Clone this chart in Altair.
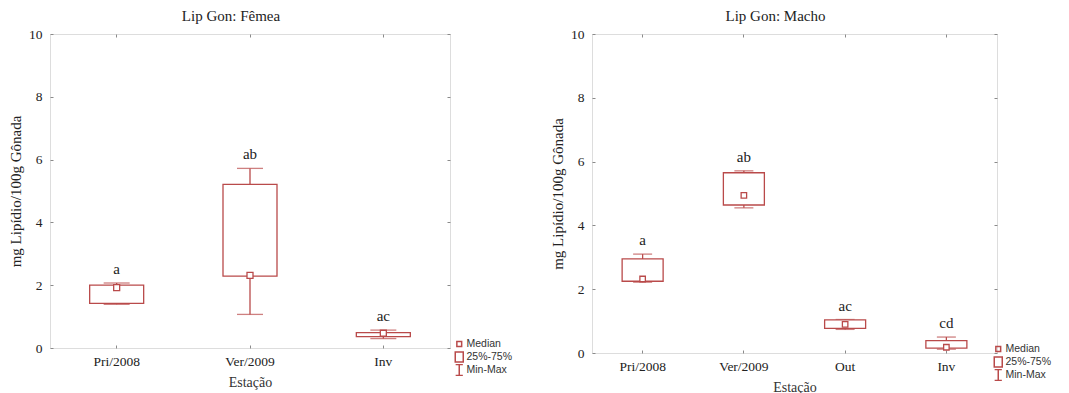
import altair as alt
import pandas as pd

RED = "#b94a4a"
GRAY = "#8a8a8a"
SERIF = "Liberation Serif"
SANS = "Liberation Sans"

# Fêmea
seasons_f = ["Pri/2008", "Ver/2009", "Inv"]
min_f = [1.39, 1.07, 0.30]
q1_f = [1.42, 2.29, 0.36]
med_f = [1.92, 2.31, 0.47]
q3_f = [2.00, 5.21, 0.49]
max_f = [2.07, 5.72, 0.57]
letters_f = ["a", "ab", "ac"]

# Macho
seasons_m = ["Pri/2008", "Ver/2009", "Out", "Inv"]
min_m = [2.22, 4.55, 0.74, 0.12]
q1_m = [2.25, 4.64, 0.77, 0.15]
med_m = [2.32, 4.94, 0.90, 0.18]
q3_m = [2.95, 5.65, 1.04, 0.39]
max_m = [3.10, 5.71, 1.05, 0.50]
letters_m = ["a", "ab", "ac", "cd"]

y_ticks = [0, 2, 4, 6, 8, 10]
legend_labels = ["Median", "25%-75%", "Min-Max"]
legend_paths = [
    "M-0.6,-0.6H0.6V0.6H-0.6Z",
    "M-1,-1.25H1V1.25H-1Z",
    "M-0.9,-1.4H0.9M0,-1.4V1.4M-0.9,1.4H0.9",
]


def panel(title, seasons, mins, q1s, meds, q3s, maxs, letters,
          width, height, box_w, cap_w, med_size, leg_x, leg_y):
    df = pd.DataFrame({"season": seasons, "min": mins, "q1": q1s, "med": meds,
                       "q3": q3s, "max": maxs, "letter": letters})
    xscale = alt.Scale(type="band", domain=seasons, paddingInner=0, paddingOuter=0)
    yscale = alt.Scale(domain=[0, 10], nice=False, zero=True)

    x_bottom = alt.Axis(orient="bottom", title="Estação", domain=False, ticks=True,
                        tickSize=3, offset=-3, tickColor=GRAY, labelAngle=0,
                        labelFont=SERIF, labelFontSize=13.5, labelColor="#222",
                        labelPadding=6, titleFont=SERIF, titleFontSize=14,
                        titleFontWeight="normal", titleColor="#333", titlePadding=8,
                        grid=False)
    x_top = alt.Axis(orient="top", title=None, labels=False, domain=False,
                     tickSize=3, offset=-3, tickColor=GRAY, grid=False,
                     minExtent=0, maxExtent=0)
    y_left = alt.Axis(orient="left", values=y_ticks, title="mg Lipídio/100g Gônada",
                      domain=False, tickSize=3, offset=-3, tickColor=GRAY,
                      labelFont=SERIF, labelFontSize=13.5, labelColor="#222",
                      labelPadding=8, titleFont=SERIF, titleFontSize=15,
                      titleFontWeight="normal", titleColor="#222", titlePadding=5,
                      grid=False)
    y_right = alt.Axis(orient="right", values=y_ticks, title=None, labels=False,
                       domain=False, tickSize=3, offset=-3, tickColor=GRAY, grid=False,
                       minExtent=0, maxExtent=0)

    def X(ax):
        return alt.X("season:N", scale=xscale, axis=ax)

    def Y(field, ax=None):
        return alt.Y(field, scale=yscale, axis=ax)

    base = alt.Chart(df)
    whisk = base.mark_rule(color=RED, strokeWidth=1.3).encode(
        x=X(x_bottom), y=Y("min:Q", y_left), y2="max:Q")
    cap_hi = base.mark_tick(color=RED, size=cap_w, thickness=1.3).encode(
        x=X(x_top), y=Y("max:Q", y_right))
    cap_lo = base.mark_tick(color=RED, size=cap_w, thickness=1.3).encode(
        x=X(None), y=Y("min:Q"))
    box = base.mark_bar(size=box_w, fill="white", stroke=RED, strokeWidth=1.3).encode(
        x=X(None), y=Y("q1:Q"), y2="q3:Q")
    med = base.mark_point(shape="square", size=med_size, filled=True, fill="white",
                          stroke=RED, strokeWidth=1.3, opacity=1).encode(
        x=X(None), y=Y("med:Q"))
    txt = base.mark_text(font=SERIF, fontSize=15, color="#222", baseline="alphabetic",
                         dy=-9).encode(x=X(None), y=Y("max:Q"), text="letter:N")

    leg_df = pd.DataFrame({"season": [seasons[0]] * 3, "v": [-5] * 3, "key": legend_labels})
    leg = alt.Chart(leg_df).mark_point(clip=True, color=RED, filled=False, size=64,
                                       strokeWidth=1, opacity=1).encode(
        x=X(None), y=Y("v:Q"),
        shape=alt.Shape("key:N",
                        scale=alt.Scale(domain=legend_labels, range=legend_paths),
                        legend=alt.Legend(title=None, orient="none", legendX=leg_x,
                                          legendY=leg_y, labelFont=SANS,
                                          labelFontSize=10.5, labelColor="#333",
                                          symbolSize=64, rowPadding=1, clipHeight=12,
                                          labelOffset=2, padding=0)))

    return alt.layer(whisk, cap_hi, cap_lo, box, med, txt, leg).resolve_axis(
        x="independent", y="independent").properties(
        width=width, height=height,
        title=alt.TitleParams(title, font=SERIF, fontSize=15, fontWeight="normal",
                              color="#222", anchor="middle", dx=-19, dy=-1, offset=-10,
                              baseline="alphabetic"))


left = panel("Lip Gon: Fêmea", seasons_f, min_f, q1_f, med_f, q3_f, max_f, letters_f,
             400, 314, 54, 26, 36, 404, 304)
right = panel("Lip Gon: Macho", seasons_m, min_m, q1_m, med_m, q3_m, max_m, letters_m,
              405, 319, 41, 19, 30, 401, 309)

chart = alt.hconcat(left, right, spacing=36).resolve_scale(
    x="independent", y="independent", shape="independent").resolve_legend(
    shape="independent").configure_view(stroke=GRAY, strokeWidth=1.3).configure(
    padding={"left": 0, "top": 0, "right": 0, "bottom": 0}, background="white")

chart.save("out.html", embed_options={"renderer": "svg", "actions": False})
